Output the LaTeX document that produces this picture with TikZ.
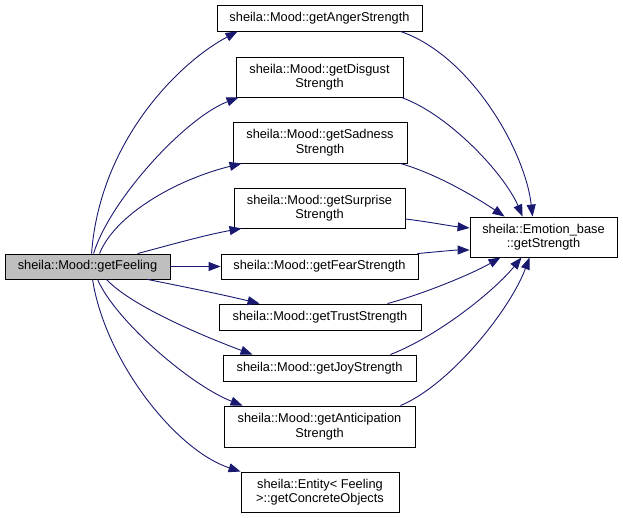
\documentclass[tikz,border=0pt]{standalone}
\usepackage{fontspec}
\setmainfont{Liberation Sans}
\usetikzlibrary{arrows.meta}
\definecolor{edgeblue}{HTML}{191970}
\definecolor{nodegray}{HTML}{BFBFBF}
\tikzset{
  fn/.style={draw=black, line width=0.9pt, fill=white, inner sep=0pt, align=center,
    font=\fontsize{12.8}{14.5}\selectfont},
  call/.style={draw=edgeblue, line width=0.9pt, -{Triangle[length=12pt,width=9pt]}, color=edgeblue},
}
\begin{document}
\begin{tikzpicture}[x=1pt,y=-1pt]
\useasboundingbox (0,0) rectangle (623,518);
\node[fn, fill=nodegray, minimum width=165pt, minimum height=25pt] (feel) at (87.5,266.5) {sheila::Mood::getFeeling};
\node[fn, minimum width=205pt, minimum height=26pt] (anger) at (319.5,18) {sheila::Mood::getAngerStrength};
\node[fn, minimum width=167pt, minimum height=40pt] (disgust) at (319.5,77) {sheila::Mood::getDisgust\\Strength};
\node[fn, minimum width=174pt, minimum height=41pt] (sad) at (320,142.5) {sheila::Mood::getSadness\\Strength};
\node[fn, minimum width=171pt, minimum height=40pt] (surp) at (319.5,208) {sheila::Mood::getSurprise\\Strength};
\node[fn, minimum width=197pt, minimum height=25pt] (fear) at (319.5,266.5) {sheila::Mood::getFearStrength};
\node[fn, minimum width=202pt, minimum height=26pt] (trust) at (320,317) {sheila::Mood::getTrustStrength};
\node[fn, minimum width=193pt, minimum height=26pt] (joy) at (319.5,368) {sheila::Mood::getJoyStrength};
\node[fn, minimum width=191pt, minimum height=41pt] (antic) at (319.5,426.5) {sheila::Mood::getAnticipation\\Strength};
\node[fn, minimum width=158pt, minimum height=40pt] (ent) at (320,492) {sheila::Entity\textless{} Feeling\\ \textgreater::getConcreteObjects};
\node[fn, minimum width=147pt, minimum height=40pt] (eb) at (543.5,237) {sheila::Emotion\_base\\::getStrength};

% getFeeling -> children
\draw[call] ([xshift=87pt]feel.north west) .. controls (100,140) and (180,62) .. ([xshift=21pt]anger.south west);
\draw[call] ([xshift=89pt]feel.north west) .. controls (110,200) and (185,118) .. ([xshift=3pt]disgust.south west);
\draw[call] ([xshift=95pt]feel.north west) .. controls (115,215) and (175,180) .. ([xshift=9pt]sad.south west);
\draw[call] ([xshift=133pt]feel.north west) .. controls (170,245) and (205,235) .. ([xshift=8pt]surp.south west);
\draw[call] (feel.east) -- (fear.west);
\draw[call] ([xshift=143pt]feel.south west) .. controls (180,286) and (220,294) .. ([xshift=41pt]trust.north west);
\draw[call] ([xshift=102pt]feel.south west) .. controls (130,305) and (200,335) .. ([xshift=30pt]joy.north west);
\draw[call] ([xshift=93pt]feel.south west) .. controls (115,320) and (190,385) .. ([xshift=19pt]antic.north west);
\draw[call] ([xshift=88pt]feel.south west) .. controls (105,360) and (175,450) .. (ent.north west);

% children -> Emotion_base
\draw[call] ([xshift=-22pt]anger.south east) .. controls (470,55) and (525,150) .. ([xshift=63pt]eb.north west);
\draw[call] ([xshift=-2pt]disgust.south east) .. controls (450,115) and (505,175) .. ([xshift=53pt]eb.north west);
\draw[call] ([xshift=-7pt]sad.south east) .. controls (440,175) and (480,200) .. ([xshift=35pt]eb.north west);
\draw[call] ([yshift=-11pt]surp.east) .. controls (430,222) and (450,226) .. ([yshift=9pt]eb.west);
\draw[call] ([xshift=-1pt]fear.north east) .. controls (435,252) and (455,250) .. ([yshift=-13pt]eb.west);
\draw[call] ([xshift=-34pt]trust.north east) .. controls (420,295) and (470,275) .. ([xshift=31pt]eb.south west);
\draw[call] ([xshift=-26pt]joy.north east) .. controls (440,335) and (495,290) .. ([xshift=52pt]eb.south west);
\draw[call] ([xshift=-15pt]antic.north east) .. controls (450,385) and (510,310) .. ([xshift=60pt]eb.south west);
\end{tikzpicture}
\end{document}
